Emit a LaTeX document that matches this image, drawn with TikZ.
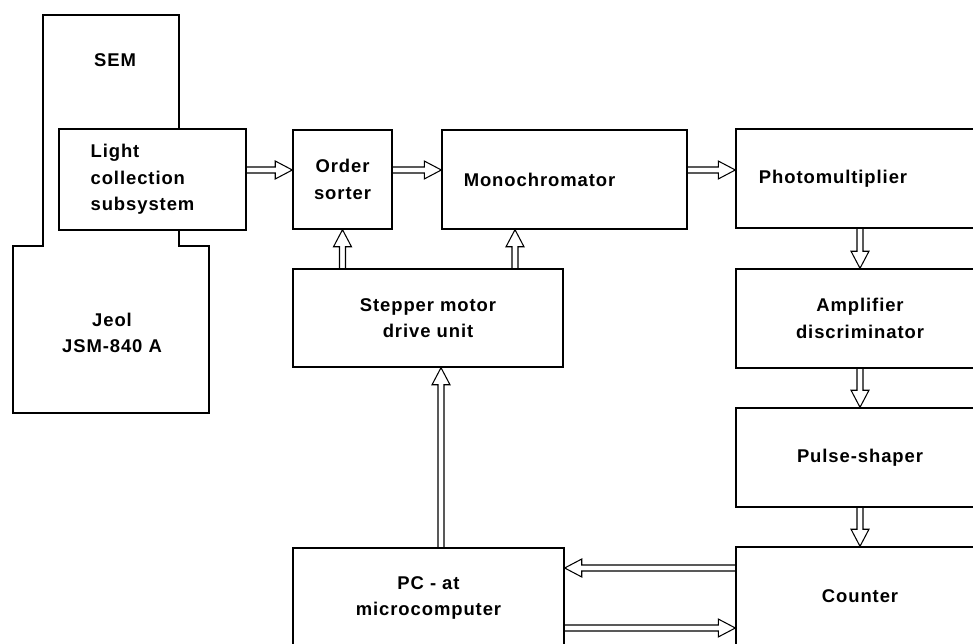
\documentclass[tikz,border=0pt]{standalone}
\usepackage{fontspec}
\setmainfont[LetterSpace=5]{Liberation Sans}
\usetikzlibrary{calc}

\begin{document}
\begin{tikzpicture}[x=0.02cm,y=-0.02cm,
    unit/.style={draw,line width=0.8pt,fill=white,align=center,inner sep=0pt,
      font=\fontsize{10.5}{15}\selectfont\bfseries},
    tag/.style={inner sep=0pt,align=center,font=\fontsize{10.5}{15}\selectfont\bfseries},
    hollow/.style={draw,line width=0.6pt,line join=miter,to path={
      ($(\tikztostart)!1.7pt!90:(\tikztotarget)$)
      -- ($(\tikztotarget)!9.7pt!(\tikztostart)!1.7pt!-90:(\tikztostart)$)
      -- ($(\tikztotarget)!9.7pt!(\tikztostart)!5.1pt!-90:(\tikztostart)$)
      -- (\tikztotarget)
      -- ($(\tikztotarget)!9.7pt!(\tikztostart)!5.1pt!90:(\tikztostart)$)
      -- ($(\tikztotarget)!9.7pt!(\tikztostart)!1.7pt!90:(\tikztostart)$)
      -- ($(\tikztostart)!1.7pt!-90:(\tikztotarget)$)}}]
    \useasboundingbox (0,0) rectangle (973,644);
    \clip (0,0) rectangle (973,644);
    \draw[line width=1.3pt] (43,15) -- (179,15) -- (179,246) -- (209,246) -- (209,413)
      -- (13,413) -- (13,246) -- (43,246) -- cycle;
    \node[tag] (sem) at (115,60) {SEM};
    \node[tag] (jeol) at (112,333) {Jeol\\JSM-840 A};
    \node[unit,align=left,minimum width=3.74cm,minimum height=2.02cm] (ls) at (152.5,179.5)
      {Light\\collection\\subsystem\hspace*{0.4cm}};
    \node[unit,minimum width=1.98cm,minimum height=1.98cm] (os) at (342.5,179.5) {Order\\sorter};
    \node[unit,minimum width=4.9cm,minimum height=1.98cm] (mc) at (564.5,179.5) {Monochromator\hspace*{1cm}};
    \node[unit,minimum width=4.96cm,minimum height=1.98cm] (pm) at (860,178.5) {Photomultiplier\hspace*{1.08cm}};
    \node[unit,minimum width=4.96cm,minimum height=1.98cm] (ad) at (860,318.5) {Amplifier\\discriminator};
    \node[unit,minimum width=4.96cm,minimum height=1.98cm] (ps) at (860,457.5) {Pulse-shaper};
    \node[unit,minimum width=4.96cm,minimum height=1.98cm] (ct) at (860,596.5) {Counter};
    \node[unit,minimum width=5.4cm,minimum height=1.96cm] (sm) at (428,318) {Stepper motor\\drive unit};
    \node[unit,minimum width=5.42cm,minimum height=2cm] (pc) at (428.5,598) {PC - at\\microcomputer};
    \coordinate (row) at (0,170);
    \coordinate (smx) at (515,0);
    \coordinate (pcx) at (441,0);
    \coordinate (upr) at (0,568);
    \coordinate (lwr) at (0,628);
    \draw[hollow] (ls.east |- row) to (os.west |- row);
    \draw[hollow] (os.east |- row) to (mc.west |- row);
    \draw[hollow] (mc.east |- row) to (pm.west |- row);
    \draw[hollow] (sm.north -| os.south) to (os.south);
    \draw[hollow] (sm.north -| smx) to (mc.south -| smx);
    \draw[hollow] (pm.south) to (ad.north);
    \draw[hollow] (ad.south) to (ps.north);
    \draw[hollow] (ps.south) to (ct.north);
    \draw[hollow] (pc.north -| pcx) to (sm.south -| pcx);
    \draw[hollow] (ct.west |- upr) to (pc.east |- upr);
    \draw[hollow] (pc.east |- lwr) to (ct.west |- lwr);
  \end{tikzpicture}
\end{document}
